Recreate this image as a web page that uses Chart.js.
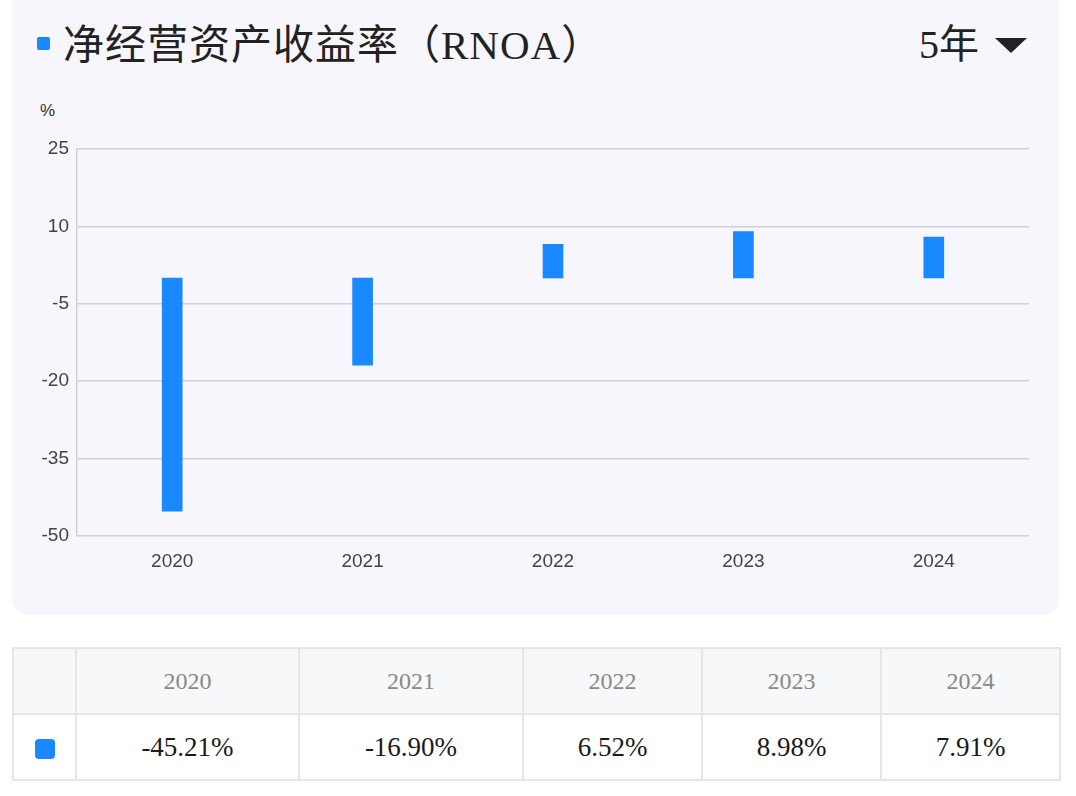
<!DOCTYPE html>
<html lang="zh-CN">
<head>
    <meta charset="UTF-8">
    <title>净经营资产收益率（RNOA）</title>
    <script src="https://cdn.jsdelivr.net/npm/chart.js"></script>
    <style>
        html, body {
            margin: 0;
            padding: 0;
            background: #ffffff;
            width: 1076px;
            height: 796px;
            overflow: hidden;
        }

        .card {
            position: absolute;
            left: 12px;
            top: -20px;
            width: 1047px;
            height: 635px;
            background: #f6f6fc;
            border-radius: 16px;
        }

        .title {
            position: absolute;
            left: 63px;
            top: 20px;
            font-family: "Liberation Serif", "Noto Sans CJK SC", serif;
            font-size: 41px;
            line-height: 50px;
            color: #222;
            white-space: nowrap;
            letter-spacing: 1px;
        }

        .title-mark {
            position: absolute;
            left: 37px;
            top: 37px;
            width: 13px;
            height: 13px;
            background: #1a88ff;
            border-radius: 2px;
        }

        .period {
            position: absolute;
            left: 919px;
            top: 20px;
            font-family: "Liberation Serif", "Noto Sans CJK SC", serif;
            font-size: 40px;
            line-height: 50px;
            color: #222;
        }

        .caret {
            position: absolute;
            left: 995px;
            top: 38px;
            width: 0;
            height: 0;
            border-left: 16px solid transparent;
            border-right: 16px solid transparent;
            border-top: 15px solid #222;
        }

        .unit {
            position: absolute;
            left: 40px;
            top: 101px;
            font-family: "Liberation Sans", Arial, sans-serif;
            font-size: 17px;
            color: #333;
        }

        #chartWrap {
            position: absolute;
            left: 12px;
            top: 90px;
            width: 1047px;
            height: 500px;
        }

        table.values {
            position: absolute;
            left: 12px;
            top: 647px;
            border-collapse: collapse;
            font-family: "Liberation Serif", "Noto Sans CJK SC", serif;
        }

        table.values td {
            border: 2px solid #e6e6e8;
            text-align: center;
            padding: 0;
        }

        table.values tr.head td {
            height: 64px;
            background: #f7f8fa;
            color: #8a8a8a;
            font-size: 24px;
        }

        table.values tr.row td {
            height: 64px;
            background: #ffffff;
            color: #1a1a1a;
            font-size: 27px;
        }

        .swatch {
            display: inline-block;
            width: 20px;
            height: 20px;
            background: #1a88ff;
            border-radius: 4px;
            vertical-align: middle;
        }
    </style>
</head>
<body>
    <div class="card"></div>
    <div class="title-mark"></div>
    <div class="title">净经营资产收益率（RNOA）</div>
    <div class="period">5年</div>
    <div class="caret"></div>
    <div class="unit">%</div>

    <div id="chartWrap">
        <canvas id="chartRnoa" width="1047" height="500"></canvas>
    </div>

    <table class="values" id="valueTable"></table>

    <script>
        // data
        const years = ['2020', '2021', '2022', '2023', '2024'];
        const rnoa = [-45.21, -16.90, 6.52, 8.98, 7.91];
        const yMin = -50;
        const yMax = 25;
        const yStep = 15;

        const barColor = '#1a88ff';
        const gridColor = '#cfcfd5';

        // table under the chart
        const colWidths = [63, 223, 224, 179, 179, 179];
        const table = document.getElementById('valueTable');
        const headRow = document.createElement('tr');
        headRow.className = 'head';
        const valRow = document.createElement('tr');
        valRow.className = 'row';

        const corner = document.createElement('td');
        corner.style.width = (colWidths[0] - 2) + 'px';
        headRow.appendChild(corner);
        const swatchCell = document.createElement('td');
        swatchCell.innerHTML = '<span class="swatch"></span>';
        valRow.appendChild(swatchCell);

        years.forEach((y, i) => {
            const th = document.createElement('td');
            th.style.width = (colWidths[i + 1] - 2) + 'px';
            th.textContent = y;
            headRow.appendChild(th);
            const td = document.createElement('td');
            td.textContent = rnoa[i].toFixed(2) + '%';
            valRow.appendChild(td);
        });
        table.appendChild(headRow);
        table.appendChild(valRow);

        // chart
        const ctx = document.getElementById('chartRnoa').getContext('2d');
        new Chart(ctx, {
            type: 'bar',
            data: {
                labels: years,
                datasets: [{
                    label: 'RNOA',
                    data: rnoa,
                    backgroundColor: barColor,
                    barThickness: 20,
                    borderWidth: 0
                }]
            },
            options: {
                responsive: false,
                animation: false,
                layout: {
                    padding: { top: 59, right: 30, bottom: 0, left: 0 }
                },
                plugins: {
                    legend: { display: false },
                    tooltip: { enabled: false }
                },
                scales: {
                    x: {
                        grid: { display: false },
                        border: { display: false },
                        ticks: {
                            color: '#444',
                            padding: 6,
                            font: { family: '"Liberation Sans", Arial, sans-serif', size: 19 }
                        },
                        afterFit: scale => { scale.height = 54; }
                    },
                    y: {
                        min: yMin,
                        max: yMax,
                        ticks: {
                            stepSize: yStep,
                            color: '#444',
                            padding: 8,
                            font: { family: '"Liberation Sans", Arial, sans-serif', size: 19 }
                        },
                        grid: {
                            color: gridColor,
                            lineWidth: 1.5,
                            drawTicks: false
                        },
                        border: { display: true, color: gridColor, width: 1.5 },
                        afterFit: scale => { scale.width = 65; }
                    }
                }
            }
        });
    </script>
</body>
</html>
